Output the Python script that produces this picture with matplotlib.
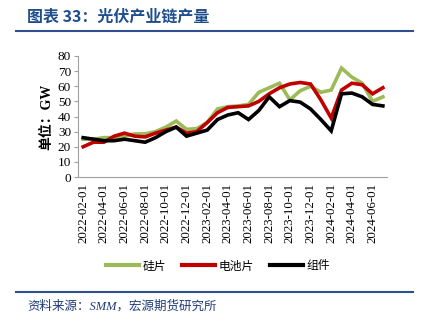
import matplotlib
matplotlib.use("Agg")
import matplotlib.pyplot as plt
from matplotlib.lines import Line2D
import pandas as pd

plt.rcParams["font.family"] = ["Liberation Serif", "Noto Sans CJK SC"]

months = pd.date_range("2022-02-01", "2024-07-01", freq="MS")
dates = [d.strftime("%Y-%m-%d") for d in months]

wafer = [25, 25, 26, 26, 27, 28.5, 28.5, 30, 33, 37, 31.5, 32,
         36, 45, 46.5, 47, 48, 56, 59, 62, 51, 57, 60, 56,
         57.5, 72, 66, 62, 50, 53]
cell = [20, 23, 23, 27, 29, 27, 26.5, 29, 31, 33, 29, 30,
        36, 42.5, 46, 46.5, 47, 50, 55, 59, 61.5, 62.5, 61.5, 51,
        39, 57.5, 62, 61, 55, 59]
module = [26, 25, 24, 24, 25, 24, 23, 26, 30, 33, 27, 29,
          31, 38, 41, 42.5, 38, 44, 53, 46.5, 50.5, 49.5, 45, 38,
          30.5, 55, 55.5, 53, 48, 47]

labels = ["硅片", "电池片", "组件"]
colors = ["#9BBB59", "#C00000", "#000000"]

fig = plt.figure(figsize=(4.25, 3.25), dpi=100)
ax = fig.add_axes([78 / 425, 1 - 177 / 325, (387 - 78) / 425, (177 - 56) / 325])

x = list(range(len(dates)))
for series, c in zip([wafer, cell, module], colors):
    ax.plot(x, series, color=c, lw=2.6, solid_joinstyle="miter")

ax.set_xlim(-0.5, len(dates) - 0.6)
ax.set_ylim(0, 80)
ax.set_yticks(range(0, 81, 10))
ax.set_xticks(x[::2])
ax.set_xticklabels(dates[::2], rotation=90, fontsize=9.3)
ax.tick_params(axis="y", labelsize=9.5, length=3, color="#A0A0A0", pad=2)
ax.tick_params(axis="x", length=0, pad=4)
for s in ["top", "right"]:
    ax.spines[s].set_visible(False)
for s in ["left", "bottom"]:
    ax.spines[s].set_color("#A0A0A0")
ax.set_ylabel("单位：GW", fontsize=10, fontweight="bold", labelpad=3)

handles = [Line2D([], [], color=c, lw=3) for c in colors]
fig.legend(handles, labels, loc="center", bbox_to_anchor=(218 / 425, 1 - 266 / 325),
           ncol=3, frameon=False, handlelength=2.8, handletextpad=0.25,
           columnspacing=1.4, prop={"family": ["Noto Sans CJK SC"], "size": 8.5})

fig.text(27 / 425, 1 - 17 / 325, "图表 33：光伏产业链产量", color="#1F4E8C",
         fontsize=11.5, fontweight="bold", va="center",
         family=["Noto Sans CJK SC"])
fig.add_artist(Line2D([16 / 425, 413 / 425], [1 - 31 / 325] * 2, color="#2E4F8F", lw=1.5))
fig.add_artist(Line2D([16 / 425, 413 / 425], [1 - 292 / 325] * 2, color="#2E4F8F", lw=1.5))
fig.text(27 / 425, 1 - 306 / 325, "资料来源：SMM，宏源期货研究所", color="#1F3A7A",
         fontsize=9, style="italic", va="center")

fig.savefig("out.png", dpi=100)
